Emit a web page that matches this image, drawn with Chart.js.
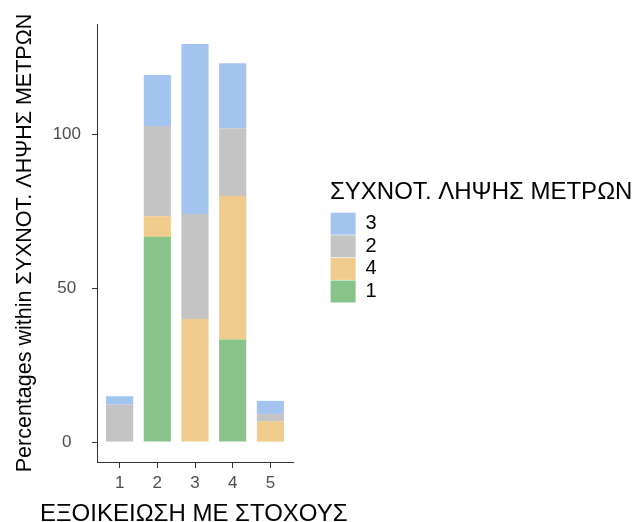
<!DOCTYPE html>
<html>
<head>
<meta charset="utf-8">
<script src="https://cdn.jsdelivr.net/npm/chart.js@4.4.1/dist/chart.umd.min.js"></script>
<style>
html, body { margin: 0; padding: 0; background: #ffffff; }
#wrap { width: 641px; height: 522px; position: relative; }
</style>
</head>
<body>
<div id="wrap"><canvas id="c"></canvas></div>
<script>
// ---- data ----
const categories = ['1', '2', '3', '4', '5'];
const seriesNames = ['1', '4', '2', '3']; // stacking order, bottom to top
const series1 = [0, 66.7, 0, 33.3, 0];
const series4 = [0, 6.7, 40.0, 46.7, 6.7];
const series2 = [12.2, 29.3, 34.1, 22.0, 2.4];
const series3 = [2.7, 16.6, 55.3, 21.1, 4.3];
const yTickValues = [0, 50, 100];
const xTitle = 'ΕΞΟΙΚΕΙΩΣΗ ΜΕ ΣΤΟΧΟΥΣ';
const yTitle = 'Percentages within ΣΥΧΝΟΤ. ΛΗΨΗΣ ΜΕΤΡΩΝ';
const legendTitle = 'ΣΥΧΝΟΤ. ΛΗΨΗΣ ΜΕΤΡΩΝ';

// ---- styles ----
const seriesColors = ['#88c48a', '#f0cc8c', '#c4c4c4', '#a4c4f0'];
const seriesValues = [series1, series4, series2, series3];
const legendBoxWidth = 311;

const totals = categories.map((c, i) => seriesValues.reduce((s, arr) => s + arr[i], 0));
const yDataMax = Math.max(...totals);
const yExpand = yDataMax * 0.05;

Chart.defaults.font.family = "'Liberation Sans', Arial, Helvetica, sans-serif";
Chart.defaults.color = '#000000';

const axisColor = '#333333';

const legendWidthPlugin = {
  id: 'legendWidth',
  beforeLayout(chart) {
    const lg = chart.legend;
    if (lg && !lg.__fitPatched) {
      const origFit = lg.fit;
      lg.fit = function () {
        origFit.call(this);
        if (this.options.display) this.width = legendBoxWidth;
      };
      lg.__fitPatched = true;
    }
  }
};

new Chart(document.getElementById('c'), {
  type: 'bar',
  data: {
    labels: categories,
    datasets: seriesNames.map((name, k) => ({
      label: name,
      data: seriesValues[k],
      backgroundColor: seriesColors[k],
      borderWidth: 0,
      categoryPercentage: 1,
      barPercentage: 0.72
    }))
  },
  plugins: [legendWidthPlugin],
  options: {
    responsive: true,
    maintainAspectRatio: false,
    animation: false,
    layout: { padding: { top: 24, right: 0, bottom: 0, left: 40 } },
    plugins: {
      tooltip: { enabled: false },
      title: {
        display: true,
        text: xTitle,
        position: 'bottom',
        align: 'start',
        fullSize: true,
        color: '#000000',
        font: { size: 24, weight: 'normal', lineHeight: 1 },
        padding: { top: 12, bottom: -4 }
      },
      legend: {
        position: 'right',
        align: 'start',
        reverse: true,
        labels: {
          boxWidth: 25,
          boxHeight: 22,
          padding: 0.6,
          color: '#000000',
          font: { size: 20 }
        },
        title: {
          display: true,
          text: legendTitle,
          color: '#000000',
          position: 'start',
          font: { size: 24 },
          padding: { top: 156, bottom: 3.3 }
        }
      }
    },
    scales: {
      x: {
        type: 'linear',
        stacked: true,
        min: 0.4,
        max: 5.6,
        offset: false,
        afterBuildTicks: s => { s.ticks = categories.map(c => ({ value: +c })); },
        afterFit: s => { s.height = 28; },
        grid: { display: true, offset: false, drawOnChartArea: false, drawTicks: true, tickLength: 6, tickColor: axisColor, tickWidth: 1 },
        border: { display: true, color: axisColor, width: 1 },
        ticks: {
          color: '#4d4d4d',
          font: { size: 17 },
          padding: 5.5,
          maxRotation: 0,
          autoSkip: false,
          callback: v => categories.find(c => +c === v)
        }
      },
      y: {
        type: 'linear',
        stacked: true,
        min: -yExpand,
        max: yDataMax + yExpand,
        afterBuildTicks: s => { s.ticks = yTickValues.map(v => ({ value: v })); },
        afterFit: s => { s.width = 57; },
        grid: { display: true, offset: false, drawOnChartArea: false, drawTicks: true, tickLength: 5, tickColor: axisColor, tickWidth: 1 },
        border: { display: true, color: axisColor, width: 1 },
        ticks: {
          color: '#4d4d4d',
          font: { size: 17 },
          padding: 11,
          crossAlign: 'center'
        },
        title: {
          display: true,
          text: yTitle,
          color: '#000000',
          font: { size: 21.5 },
          padding: { top: -27.9, bottom: 0 }
        }
      },
      spacer: {
        type: 'linear',
        position: 'right',
        display: true,
        grid: { display: false },
        border: { display: false },
        ticks: { display: false },
        afterFit: s => { s.width = 37; }
      }
    }
  }
});
</script>
</body>
</html>
